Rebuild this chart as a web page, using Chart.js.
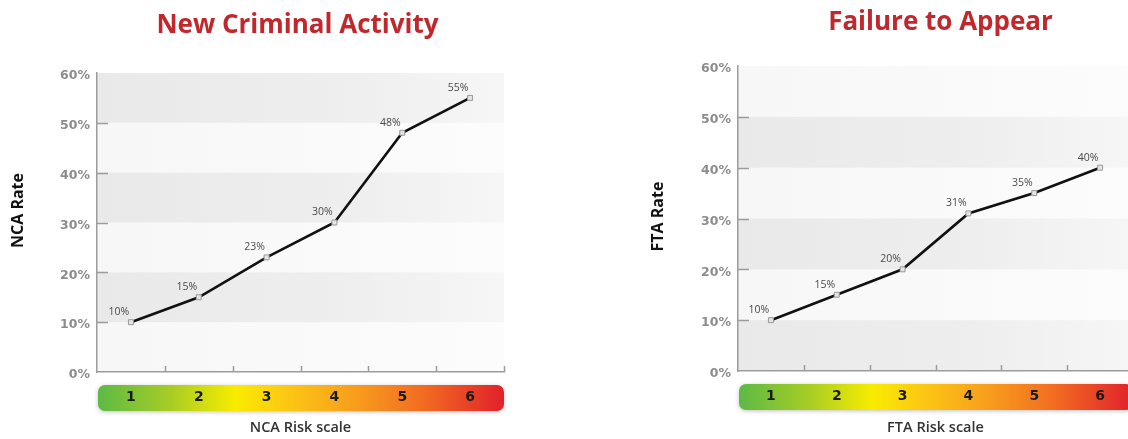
<!DOCTYPE html>
<html>
<head>
<meta charset="utf-8">
<script src="https://cdn.jsdelivr.net/npm/chart.js@4.4.1/dist/chart.umd.min.js"></script>
<style>
  html, body { margin: 0; padding: 0; background: #fff; overflow: hidden; }
  body { width: 1128px; height: 439px; position: relative; }
  .panel { position: absolute; top: 0; height: 439px; }
  #nca-panel { left: 0; width: 560px; }
  #fta-panel { left: 560px; width: 620px; }
</style>
</head>
<body>
<div class="panel" id="nca-panel"><canvas id="nca-chart" width="560" height="439"></canvas></div>
<div class="panel" id="fta-panel"><canvas id="fta-chart" width="620" height="439"></canvas></div>
<script>
// risk levels on the x axis, rates in percent
const riskLevels = ['1', '2', '3', '4', '5', '6'];
const ncaRates = [10, 15, 23, 30, 48, 55];
const ftaRates = [10, 15, 20, 31, 35, 40];
const rateTicks = [0, 10, 20, 30, 40, 50, 60];
// shaded horizontal stripes behind each plot
const ncaBands = [[10, 20], [30, 40], [50, 60]];
const ftaBands = [[0, 10], [20, 30], [40, 50]];

Chart.defaults.font.family = '"Open Sans", sans-serif';

// stripes, coloured risk bar, inner tick marks, value labels, rate title and the red heading
const riskDecor = {
    id: 'riskDecor',
    beforeDraw(chart, args, opts) {
        const { ctx, chartArea: a, scales: { y } } = chart;
        ctx.save();

        let g = ctx.createLinearGradient(a.left, 0, a.right, 0);
        g.addColorStop(0, '#f7f7f7');
        g.addColorStop(1, '#fcfcfc');
        ctx.fillStyle = g;
        ctx.fillRect(a.left, a.top, a.width, a.height);

        g = ctx.createLinearGradient(a.left, 0, a.right, 0);
        g.addColorStop(0, '#e9e9e9');
        g.addColorStop(0.6, '#eeeeee');
        g.addColorStop(1, '#f6f6f6');
        ctx.fillStyle = g;
        opts.bands.forEach(([lo, hi]) => {
            const top = y.getPixelForValue(hi);
            const bot = y.getPixelForValue(lo);
            ctx.fillRect(a.left, top, a.width, bot - top);
        });

        // risk scale bar under the x axis
        const barTop = a.bottom + 13;
        const barH = 26;
        const bar = ctx.createLinearGradient(a.left, 0, a.right, 0);
        bar.addColorStop(0, '#5cb946');
        bar.addColorStop(0.18, '#a6cd24');
        bar.addColorStop(0.34, '#f8ec00');
        bar.addColorStop(0.46, '#fcc913');
        bar.addColorStop(0.62, '#f8a11c');
        bar.addColorStop(0.8, '#f26c21');
        bar.addColorStop(1, '#e1212b');
        ctx.shadowColor = 'rgba(0,0,0,0.25)';
        ctx.shadowBlur = 4;
        ctx.shadowOffsetY = 1;
        ctx.fillStyle = bar;
        ctx.beginPath();
        ctx.roundRect(a.left + 1, barTop, a.width - 1, barH, 7);
        ctx.fill();
        ctx.restore();
    },
    afterDraw(chart, args, opts) {
        const { ctx, chartArea: a, scales: { x, y } } = chart;
        ctx.save();
        ctx.strokeStyle = '#9c9c9c';
        ctx.lineWidth = 1.5;
        ctx.beginPath();
        // short marks pointing into the plot
        rateTicks.slice(1, -1).forEach(v => {
            const py = Math.round(y.getPixelForValue(v)) + 0.5;
            ctx.moveTo(a.left, py);
            ctx.lineTo(a.left + 11, py);
        });
        const half = (x.getPixelForValue(1) - x.getPixelForValue(0)) / 2;
        riskLevels.forEach((_, i) => {
            const px = Math.round(x.getPixelForValue(i) + half) + 0.5;
            ctx.moveTo(px, a.bottom);
            ctx.lineTo(px, a.bottom - 6);
        });
        ctx.stroke();

        ctx.fillStyle = '#c1282d';
        ctx.font = '700 26px "Open Sans"';
        ctx.textAlign = 'center';
        ctx.textBaseline = 'alphabetic';
        ctx.fillText(opts.title, (a.left + a.right) / 2 + opts.titleShift, opts.titleBase);

        // rotated rate title left of the axis
        ctx.fillStyle = '#111';
        ctx.font = '700 16px "Open Sans"';
        ctx.textBaseline = 'middle';
        ctx.translate(opts.rateX, (a.top + a.bottom) / 2 + opts.rateShift);
        ctx.rotate(-Math.PI / 2);
        ctx.fillText(opts.rateTitle, 0, 0);
        ctx.restore();
    },
    afterDatasetsDraw(chart) {
        const { ctx } = chart;
        const ds = chart.data.datasets[0];
        ctx.save();
        ctx.fillStyle = '#4a4a4a';
        ctx.font = '10.5px "Open Sans"';
        ctx.textAlign = 'center';
        ctx.textBaseline = 'middle';
        chart.getDatasetMeta(0).data.forEach((pt, i) => {
            ctx.fillText(ds.data[i] + '%', pt.x - 12, pt.y - 10);
        });
        ctx.restore();
    }
};
Chart.register(riskDecor);

function makeRiskChart(id, rates, o) {
    return new Chart(document.getElementById(id), {
        type: 'line',
        data: {
            labels: riskLevels,
            datasets: [{
                data: rates,
                borderColor: '#111',
                borderWidth: 2.6,
                tension: 0,
                pointStyle: 'rect',
                pointRadius: 3.5,
                pointBackgroundColor: '#e4e4e4',
                pointBorderColor: '#9a9a9a',
                pointBorderWidth: 1
            }]
        },
        options: {
            responsive: false,
            animation: false,
            events: [],
            layout: { padding: { top: o.top, right: o.right, bottom: 0, left: 0 } },
            plugins: {
                legend: { display: false },
                tooltip: { enabled: false },
                riskDecor: {
                    bands: o.bands, title: o.title, titleBase: o.titleBase, titleShift: o.titleShift,
                    rateTitle: o.yTitle, rateX: o.rateX, rateShift: o.rateShift
                }
            },
            scales: {
                x: {
                    offset: true,
                    grid: { display: false, drawTicks: false },
                    border: { display: true, color: '#9c9c9c', width: 1.5 },
                    ticks: {
                        padding: 17,
                        color: '#1a1a1a',
                        font: { family: '"DejaVu Sans"', size: 14, weight: 'bold' }
                    },
                    title: {
                        display: true,
                        text: o.xTitle,
                        color: '#333',
                        padding: { top: 0, bottom: 2 },
                        font: { size: 14.5, weight: '600' }
                    },
                    afterFit: s => { s.height = o.xHeight; }
                },
                y: {
                    min: 0,
                    max: 60,
                    afterBuildTicks: s => { s.ticks = rateTicks.map(v => ({ value: v })); },
                    grid: { display: false, drawTicks: false },
                    border: { display: true, color: '#9c9c9c', width: 1.5 },
                    ticks: {
                        padding: 7,
                        labelOffset: 3,
                        color: '#8c8c8c',
                        font: { family: '"DejaVu Sans"', size: 12.5, weight: 'bold' },
                        callback: v => v + '%'
                    },
                    afterFit: s => { s.width = o.yWidth; }
                }
            }
        }
    });
}

makeRiskChart('nca-chart', ncaRates, {
    title: 'New Criminal Activity', titleBase: 33, titleShift: -3,
    xTitle: 'NCA Risk scale', yTitle: 'NCA Rate', rateX: 18, rateShift: -12,
    bands: ncaBands, top: 73, right: 56, xHeight: 67, yWidth: 97
});

makeRiskChart('fta-chart', ftaRates, {
    title: 'Failure to Appear', titleBase: 30, titleShift: 5,
    xTitle: 'FTA Risk scale', yTitle: 'FTA Rate', rateX: 98, rateShift: -2,
    bands: ftaBands, top: 66, right: 47, xHeight: 68, yWidth: 178
});
</script>
</body>
</html>
